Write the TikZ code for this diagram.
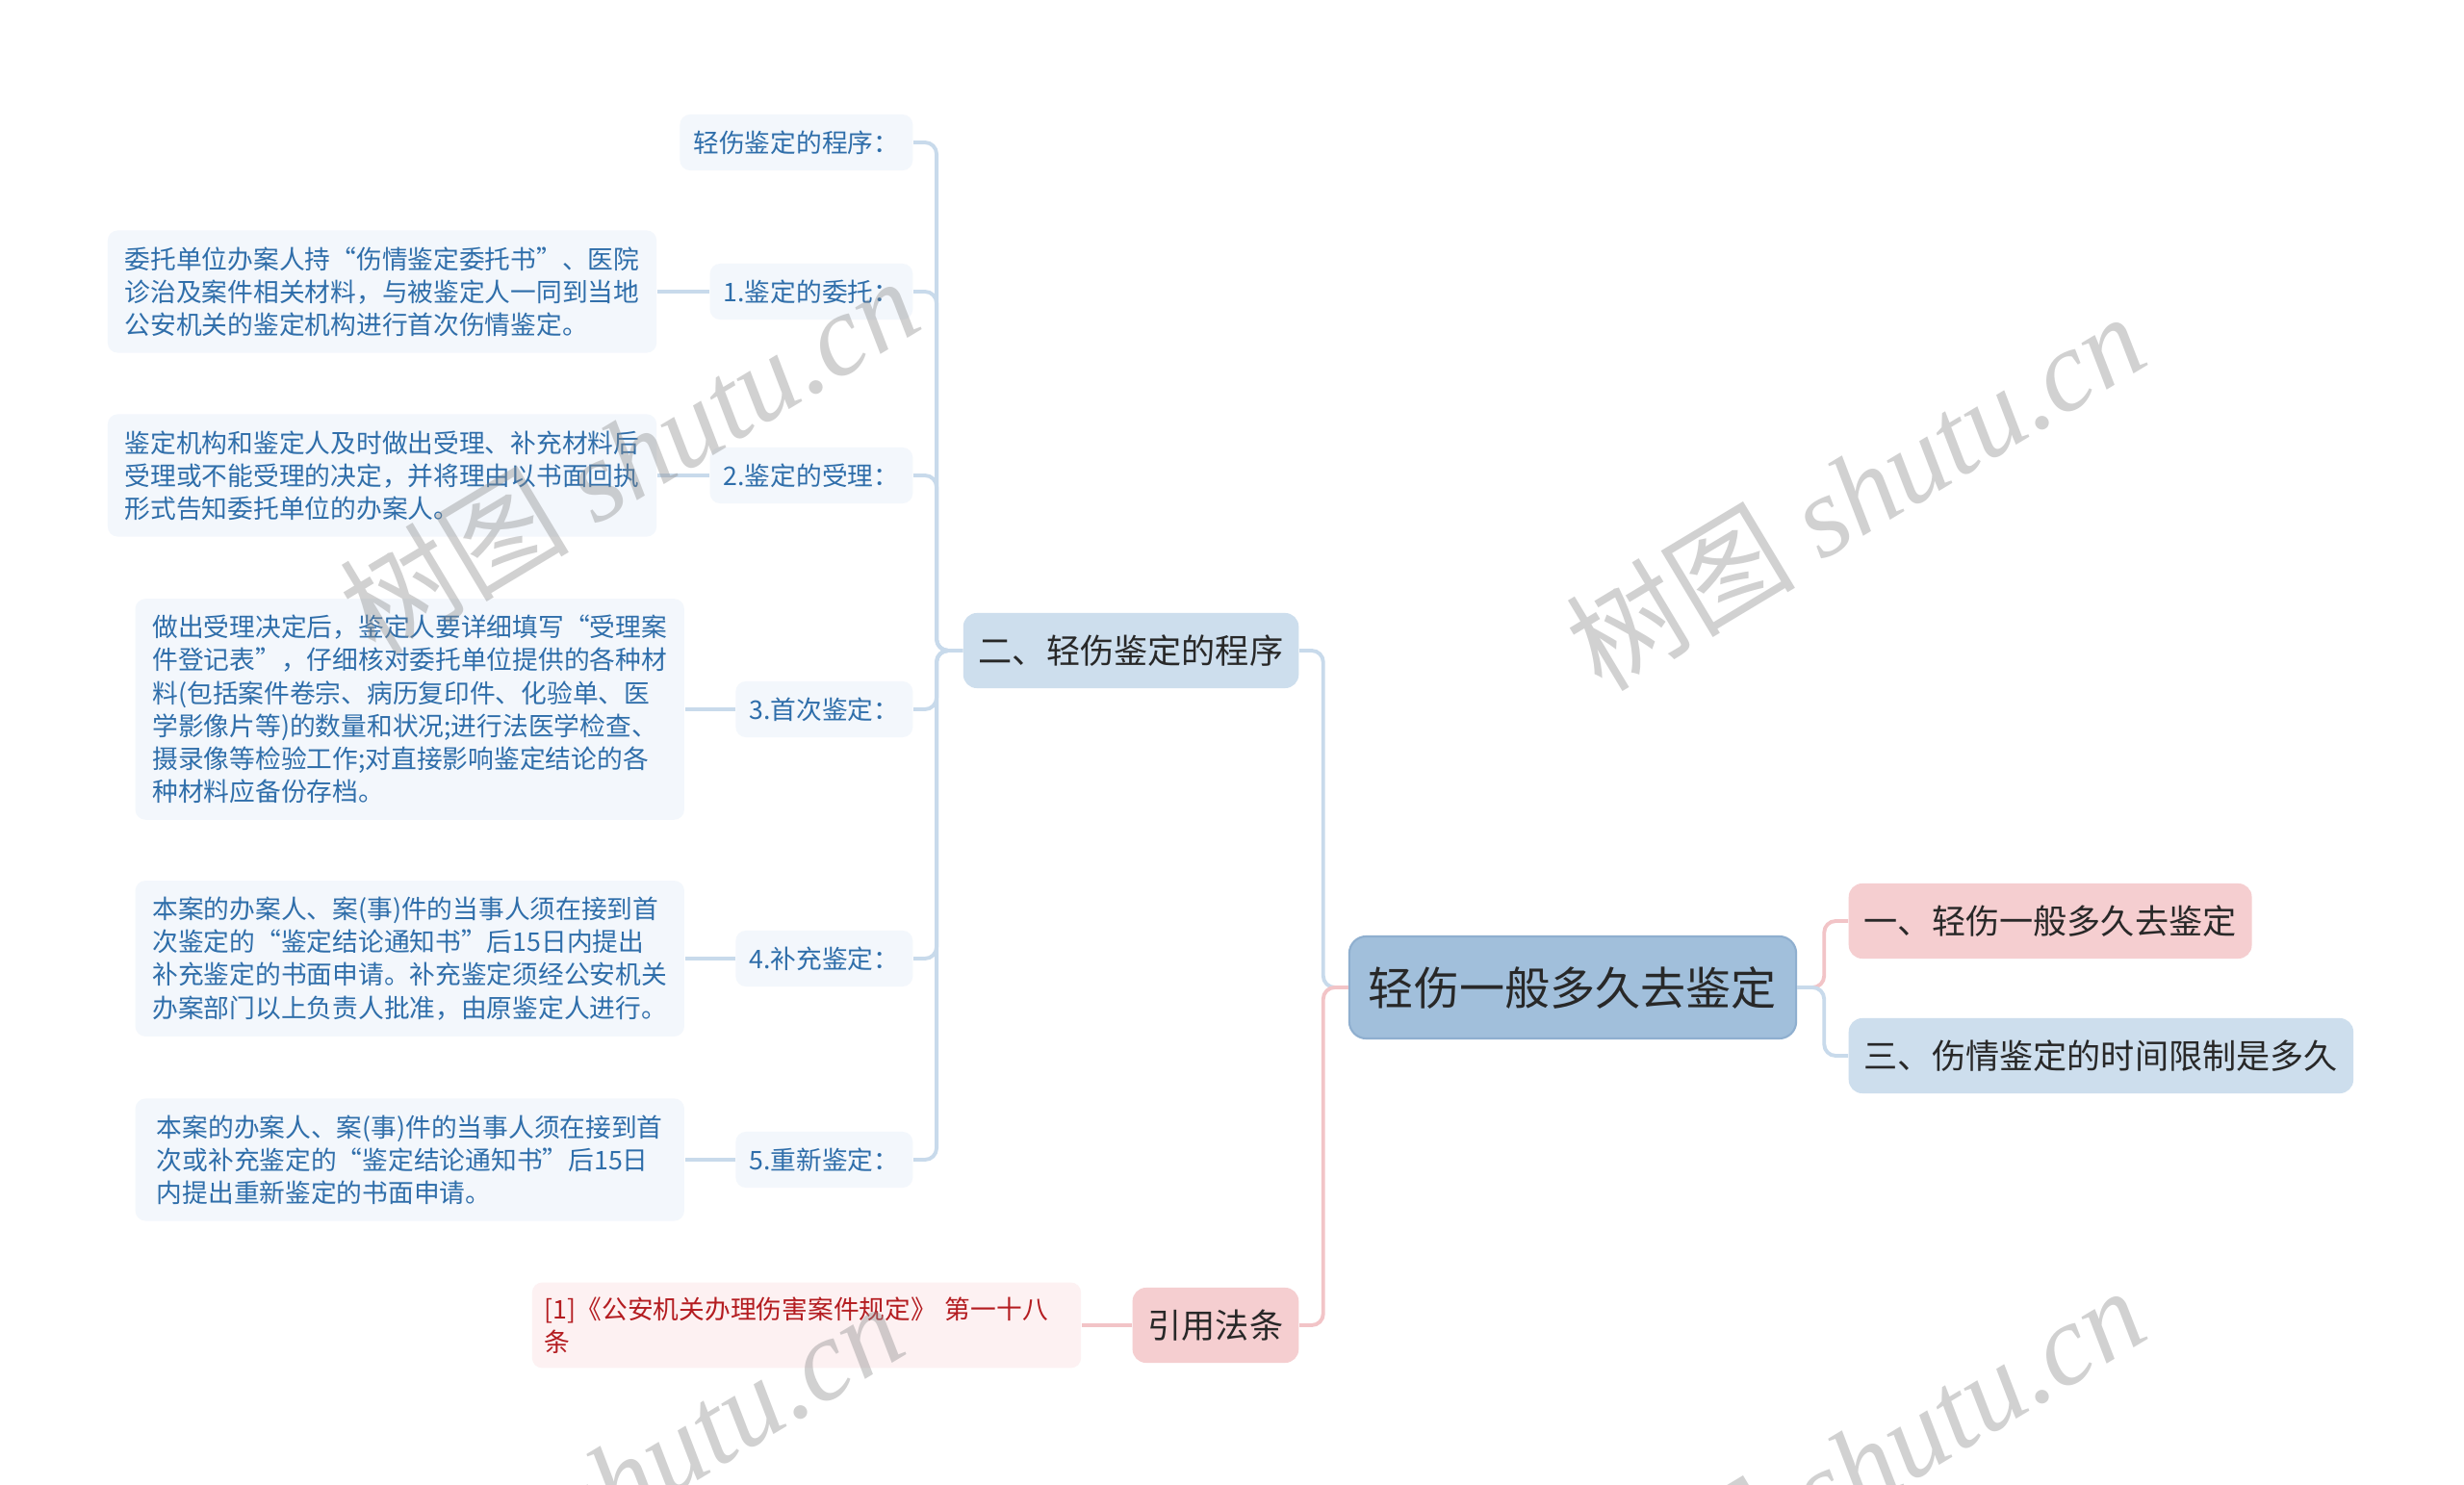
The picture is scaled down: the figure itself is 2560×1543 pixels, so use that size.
\documentclass[tikz,border=0pt]{standalone}
\usepackage{fontspec}
\setmainfont{Noto Sans CJK SC}
\newfontfamily\wmserif{Liberation Serif}
\usetikzlibrary{positioning}
\definecolor{rootblue}{RGB}{161,191,219}
\definecolor{rootedge}{RGB}{143,175,207}
\definecolor{subblue}{RGB}{205,222,237}
\definecolor{subpink}{RGB}{245,206,208}
\definecolor{leafbg}{RGB}{243,247,252}
\definecolor{refbg}{RGB}{253,241,242}
\definecolor{leaftext}{RGB}{47,110,170}
\definecolor{reftext}{RGB}{180,28,32}
\definecolor{darktext}{RGB}{40,40,40}
\definecolor{lineblue}{RGB}{200,218,235}
\definecolor{linepink}{RGB}{242,196,199}
\tikzset{
  rootbox/.style={rectangle, rounded corners=5pt, fill=rootblue, draw=rootedge, line width=0.6pt,
              minimum width=4.64cm, minimum height=1.06cm, font=\fontsize{13.4}{16}\selectfont, text=darktext},
  bluebox/.style={rectangle, rounded corners=4pt, fill=subblue, minimum height=0.78cm, inner xsep=0.16cm,
              font=\fontsize{10}{12}\selectfont, text=darktext},
  pinkbox/.style={bluebox, fill=subpink},
  stepbox/.style={rectangle, rounded corners=3pt, fill=leafbg, minimum height=0.58cm, inner xsep=0.14cm,
              font=\fontsize{7.6}{9.7}\selectfont, text=leaftext},
  notebox/.style={rectangle, rounded corners=3pt, fill=leafbg, align=left, minimum width=5.7cm,
              inner xsep=0.13cm, inner ysep=0.17cm, font=\fontsize{7.6}{9.7}\selectfont, text=leaftext},
  refbox/.style={notebox, fill=refbg, text=reftext, text width=5.44cm, inner ysep=0.15cm},
  bline/.style={draw=lineblue, line width=1.1pt, rounded corners=0.12cm},
  pline/.style={bline, draw=linepink},
  wmark/.style={text=black!45, opacity=0.4, rotate=31, font=\fontsize{34}{34}\selectfont},
}

\begin{document}
\begin{tikzpicture}[x=0.01cm, y=-0.01cm]
    \clip (0,0) rectangle (2560,1543);
    \fill[white] (0,0) rectangle (2560,1543);

    \node[rootbox] (root) at (1634,1026) {轻伤一般多久去鉴定};
    \node[pinkbox, anchor=west] (one) at (1920,957) {一、轻伤一般多久去鉴定};
    \node[bluebox, anchor=west] (three) at (1920,1097) {三、伤情鉴定的时间限制是多久};
    \node[bluebox, anchor=east] (two) at (1350,676) {二、轻伤鉴定的程序};
    \node[pinkbox, anchor=east] (law) at (1350,1377) {引用法条};
    \node[refbox, left=0.52cm of law] (ref) {[1]《公安机关办理伤害案件规定》 第一十八\\条};

    \node[stepbox, anchor=east] (lab0) at (949,148) {轻伤鉴定的程序：};
    \node[stepbox, anchor=east] (lab1) at (949,303) {1.鉴定的委托：};
    \node[stepbox, anchor=east] (lab2) at (949,494) {2.鉴定的受理：};
    \node[stepbox, anchor=east] (lab3) at (949,737) {3.首次鉴定：};
    \node[stepbox, anchor=east] (lab4) at (949,996) {4.补充鉴定：};
    \node[stepbox, anchor=east] (lab5) at (949,1205) {5.重新鉴定：};

    \node[notebox, left=0.54cm of lab1] (note1)
        {委托单位办案人持“伤情鉴定委托书”、医院\\诊治及案件相关材料，与被鉴定人一同到当地\\公安机关的鉴定机构进行首次伤情鉴定。};
    \node[notebox, left=0.54cm of lab2] (note2)
        {鉴定机构和鉴定人及时做出受理、补充材料后\\受理或不能受理的决定，并将理由以书面回执\\形式告知委托单位的办案人。};
    \node[notebox, left=0.52cm of lab3] (note3)
        {做出受理决定后，鉴定人要详细填写“受理案\\件登记表”，仔细核对委托单位提供的各种材\\料(包括案件卷宗、病历复印件、化验单、医\\学影像片等)的数量和状况;进行法医学检查、\\摄录像等检验工作;对直接影响鉴定结论的各\\种材料应备份存档。};
    \node[notebox, left=0.52cm of lab4] (note4)
        {本案的办案人、案(事)件的当事人须在接到首\\次鉴定的“鉴定结论通知书”后15日内提出\\补充鉴定的书面申请。补充鉴定须经公安机关\\办案部门以上负责人批准，由原鉴定人进行。};
    \node[notebox, left=0.52cm of lab5] (note5)
        {本案的办案人、案(事)件的当事人须在接到首\\次或补充鉴定的“鉴定结论通知书”后15日\\内提出重新鉴定的书面申请。};

    \draw[bline] (root.west) -- ++(-0.26cm,0) |- (two.east);
    \draw[pline] (root.west) -- ++(-0.26cm,0) |- (law.east);
    \draw[pline] (root.east) -- ++(0.28cm,0) |- (one.west);
    \draw[bline] (root.east) -- ++(0.28cm,0) |- (three.west);
    \foreach \n in {lab0,lab1,lab2,lab3,lab4,lab5}
        \draw[bline] (two.west) -- ++(-0.27cm,0) |- (\n.east);
    \foreach \i in {1,...,5}
        \draw[bline] (lab\i.west) -- (note\i.east);
    \draw[pline] (law.west) -- (ref.east);

    \node[wmark] (wm1) at (653,473) {树图 {\wmserif\itshape shutu.cn}};
    \node[wmark] (wm2) at (1927,510) {树图 {\wmserif\itshape shutu.cn}};
    \node[wmark] (wm3) at (637,1538) {树图 {\wmserif\itshape shutu.cn}};
    \node[wmark] (wm4) at (1927,1522) {树图 {\wmserif\itshape shutu.cn}};
\end{tikzpicture}
\end{document}
